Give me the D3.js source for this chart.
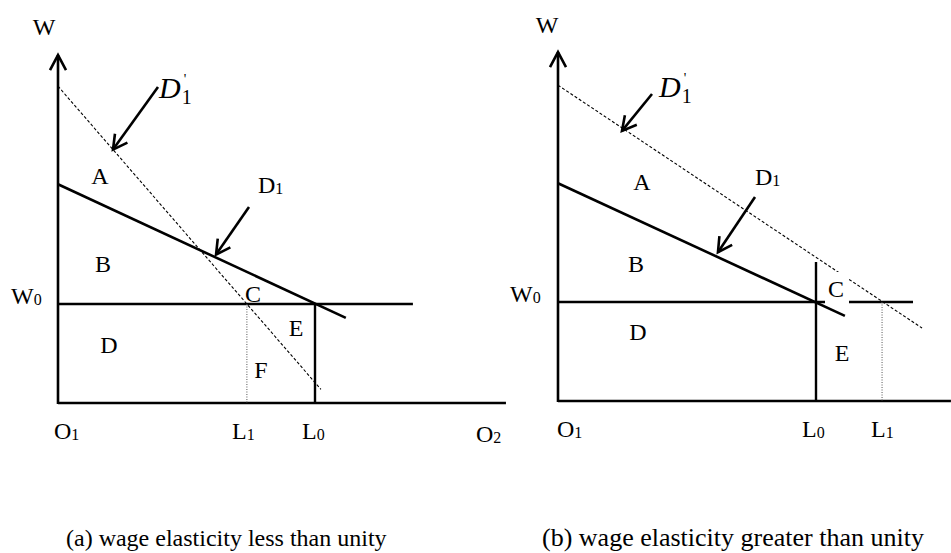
<!DOCTYPE html>
<html>
<head>
<meta charset="utf-8">
<script src="https://cdn.jsdelivr.net/npm/d3@7"></script>
<style>
  html, body { margin: 0; padding: 0; background: #fff; }
  svg { display: block; }
  text { font-family: "Liberation Serif", "Times New Roman", serif; fill: #000; }
</style>
</head>
<body>
<svg id="chart" width="951" height="553"></svg>
<script>
// ---- Data (labour L on x, wage W on y; W0 = 1, L0 = 1) ----
const wageLevel = 1;                       // W0
const baseEmployment = 1;                  // L0
// (a) inelastic case
const demandA_D1  = [[0, 2.21], [1.12, 0.86]];
const demandA_D1p = [[0, 3.20], [1.023, 0.138]];
const employmentA_L1 = 0.735;
const axisEndA = { l: 1.743, w: 3.515 };
const wageLineEndA = 1.381;
// (b) elastic case
const demandB_D1  = [[0, 2.20], [1.112, 0.86]];
const demandB_D1p = [[0, 3.19], [1.411, 0.737]];
const employmentB_L1 = 1.256;
const axisEndB = { l: 1.523, w: 3.525 };
const wageLineEndB = 1.376;
const l0TopB = 1.404;
// label texts
const regionLabelsA = ["A", "B", "C", "D", "E", "F"];
const regionLabelsB = ["A", "B", "C", "D", "E"];
const captions = ["(a) wage elasticity less than unity", "(b) wage elasticity greater than unity"];

const svg = d3.select("#chart");
const LABEL = 24, SUB = 16;

function subText(g, x, y, main, sub, opts = {}) {
  const size = opts.size || LABEL, subSize = opts.subSize || SUB;
  const t = g.append("text").attr("x", x).attr("y", y)
    .attr("font-size", size).attr("text-anchor", opts.anchor || "start");
  t.append("tspan").text(main);
  t.append("tspan").attr("font-size", subSize).attr("dy", 1).text(sub);
  return t;
}

function arrow(g, x1, y1, x2, y2) {
  g.append("line").attr("x1", x1).attr("y1", y1).attr("x2", x2).attr("y2", y2)
    .attr("stroke", "#000").attr("stroke-width", 2.6);
  const ang = Math.atan2(y2 - y1, x2 - x1), len = 16, spread = 0.5;
  const p = d3.path();
  p.moveTo(x2 - len * Math.cos(ang - spread), y2 - len * Math.sin(ang - spread));
  p.lineTo(x2, y2);
  p.lineTo(x2 - len * Math.cos(ang + spread), y2 - len * Math.sin(ang + spread));
  g.append("path").attr("d", p.toString()).attr("fill", "none")
    .attr("stroke", "#000").attr("stroke-width", 2.6).attr("stroke-linejoin", "miter");
}

function valueAt(line, l) {
  const [[x0, y0], [x1, y1]] = line;
  return y0 + (y1 - y0) * (l - x0) / (x1 - x0);
}

function primeLabel(g, x, y) {
  const t = g.append("text").attr("x", x).attr("y", y).attr("font-size", 30);
  t.append("tspan").attr("font-style", "italic").text("D");
  const bb = t.node().getComputedTextLength();
  g.append("text").attr("x", x + bb + 1).attr("y", y + 6).attr("font-size", 20).text("1");
  g.append("text").attr("x", x + bb + 3).attr("y", y - 14).attr("font-size", 14).text("'");
}

function panel(cfg) {
  const g = svg.append("g");
  const x = d3.scaleLinear().domain([0, 1]).range([cfg.ox, cfg.l0px]);
  const y = d3.scaleLinear().domain([0, 1]).range([cfg.oy, cfg.w0px]);
  const line = d3.line().x(d => x(d[0])).y(d => y(d[1]));

  // axes
  g.append("line").attr("x1", x(0)).attr("x2", x(cfg.axisEnd.l)).attr("y1", y(0)).attr("y2", y(0))
    .attr("stroke", "#000").attr("stroke-width", 2.6);
  g.append("line").attr("x1", x(0)).attr("x2", x(0)).attr("y1", y(0) + 1).attr("y2", y(cfg.axisEnd.w))
    .attr("stroke", "#000").attr("stroke-width", 2.6);
  const tip = y(cfg.axisEnd.w);
  g.append("path").attr("d", `M${x(0) - 8},${tip + 15} L${x(0)},${tip} L${x(0) + 8},${tip + 15}`)
    .attr("fill", "none").attr("stroke", "#000").attr("stroke-width", 2.6);

  // wage line W0
  g.append("line").attr("x1", x(0)).attr("x2", x(cfg.wageEnd)).attr("y1", y(wageLevel)).attr("y2", y(wageLevel))
    .attr("stroke", "#000").attr("stroke-width", 2.4);

  // L1 dotted
  g.append("line").attr("x1", x(cfg.L1)).attr("x2", x(cfg.L1)).attr("y1", y(wageLevel)).attr("y2", y(0))
    .attr("stroke", "#555").attr("stroke-width", 1).attr("stroke-dasharray", "1,1.5");

  // L0 solid
  g.append("line").attr("x1", x(baseEmployment)).attr("x2", x(baseEmployment))
    .attr("y1", y(cfg.l0Top)).attr("y2", y(0))
    .attr("stroke", "#000").attr("stroke-width", 2.4);

  // D1' dashed
  g.append("path").attr("d", line(cfg.D1p)).attr("fill", "none")
    .attr("stroke", "#000").attr("stroke-width", 1.1).attr("stroke-dasharray", "3,2");
  // D1 solid
  g.append("path").attr("d", line(cfg.D1)).attr("fill", "none")
    .attr("stroke", "#000").attr("stroke-width", 2.6);

  return { g, x, y };
}

// ---------- panel (a) ----------
const A = panel({ ox: 58, oy: 403, l0px: 315, w0px: 304, axisEnd: axisEndA, wageEnd: wageLineEndA,
  L1: employmentA_L1, l0Top: wageLevel, D1: demandA_D1, D1p: demandA_D1p });
{
  const { g, x, y } = A;
  g.append("text").attr("x", 44).attr("y", 35).attr("font-size", LABEL).attr("text-anchor", "middle").text("W");
  subText(g, 11, 304, "W", "0");
  const pos = { A: [100, 184], B: [103, 272], C: [253, 302], D: [109, 353], E: [296, 336], F: [261, 378] };
  regionLabelsA.forEach(k => g.append("text").attr("x", pos[k][0]).attr("y", pos[k][1])
    .attr("font-size", LABEL).attr("text-anchor", "middle").text(k));
  subText(g, 54, 439, "O", "1");
  subText(g, 232, 439, "L", "1");
  subText(g, 302, 439, "L", "0");
  subText(g, 476, 442, "O", "2");
  subText(g, 258, 193, "D", "1");
  primeLabel(g, 159, 98);
  const la = 0.214, lb = 0.615;
  arrow(g, 158, 87, x(la), y(valueAt(demandA_D1p, la)));
  arrow(g, 249, 207, x(lb), y(valueAt(demandA_D1, lb)) - 3);
  g.append("text").attr("x", 66).attr("y", 546).attr("font-size", 24).text(captions[0]);
}

// ---------- panel (b) ----------
const B = panel({ ox: 558, oy: 401, l0px: 816, w0px: 302, axisEnd: axisEndB, wageEnd: wageLineEndB,
  L1: employmentB_L1, l0Top: l0TopB, D1: demandB_D1, D1p: demandB_D1p });
{
  const { g, x, y } = B;
  g.append("text").attr("x", 547).attr("y", 33).attr("font-size", LABEL).attr("text-anchor", "middle").text("W");
  subText(g, 510, 302, "W", "0");
  // C sits on a white patch over the wage and D1' lines
  g.append("rect").attr("x", 825).attr("y", 272).attr("width", 24).attr("height", 32).attr("fill", "#fff");
  const pos = { A: [642, 190], B: [636, 272], C: [836, 297], D: [638, 340], E: [842, 361] };
  regionLabelsB.forEach(k => g.append("text").attr("x", pos[k][0]).attr("y", pos[k][1])
    .attr("font-size", LABEL).attr("text-anchor", "middle").text(k));
  subText(g, 557, 437, "O", "1");
  subText(g, 802, 437, "L", "0");
  subText(g, 871, 437, "L", "1");
  subText(g, 755, 185, "D", "1");
  primeLabel(g, 659, 97);
  const la = 0.248, lb = 0.62;
  arrow(g, 652, 94, x(la), y(valueAt(demandB_D1p, la)) + 3);
  arrow(g, 755, 197, x(lb), y(valueAt(demandB_D1, lb)) - 5);
  g.append("text").attr("x", 542).attr("y", 546).attr("font-size", 26).text(captions[1]);
}
</script>
</body>
</html>
